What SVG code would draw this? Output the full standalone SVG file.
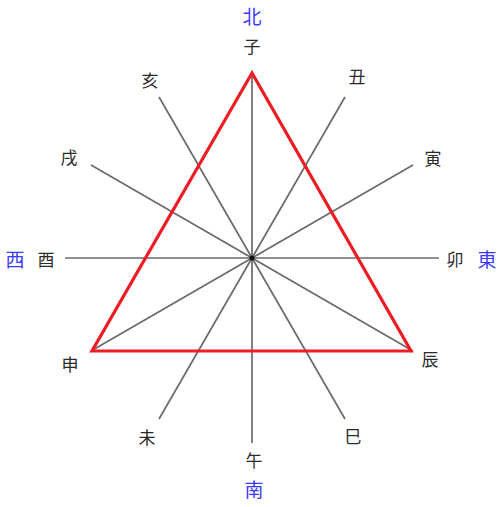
<svg xmlns="http://www.w3.org/2000/svg" width="500" height="507" viewBox="0 0 500 507">
<style>
.l{stroke:#6a6a6a;stroke-width:1.7;fill:none}
.t{font-family:"Noto Sans CJK JP","Noto Sans CJK SC",sans-serif;font-size:17px;fill:#2a2a2a;text-anchor:middle;dominant-baseline:central}
.d{font-family:"Noto Sans CJK JP","Noto Sans CJK SC",sans-serif;font-size:19px;fill:#3a3aff;text-anchor:middle;dominant-baseline:central}
</style>
<rect width="500" height="507" fill="#fff"/>
<g id="connectors">
<line class="l" x1="252" y1="73" x2="252" y2="443"/>
<line class="l" x1="65" y1="258" x2="439" y2="258"/>
<line class="l" x1="159" y1="97" x2="345" y2="419"/>
<line class="l" x1="345" y1="97" x2="159" y2="419"/>
<line class="l" x1="91" y1="165" x2="413" y2="351"/>
<line class="l" x1="413" y1="165" x2="91" y2="351"/>
<circle cx="252" cy="258" r="2.5" fill="#111"/>
</g>
<g id="triangle">
<polygon points="252,73 92,351 411,351" fill="none" stroke="#ee1c24" stroke-width="3.2" stroke-linejoin="miter"/>
</g>
<g id="directions">
<text class="d" x="252" y="15">北</text>
<text class="d" x="487" y="258">東</text>
<text class="d" x="254" y="488">南</text>
<text class="d" x="15" y="258">西</text>
</g>
<g id="branches">
<text id="n-zi" class="t" x="252" y="45">子</text>
<text id="n-chou" class="t" x="357" y="75">丑</text>
<text id="n-yin" class="t" x="433" y="157">寅</text>
<text id="n-mao" class="t" x="455" y="258">卯</text>
<text id="n-chen" class="t" x="430" y="358">辰</text>
<text id="n-si" class="t" x="353" y="435">巳</text>
<text id="n-wu" class="t" x="254" y="459">午</text>
<text id="n-wei" class="t" x="147" y="436">未</text>
<text id="n-shen" class="t" x="70" y="363">申</text>
<text id="n-you" class="t" x="46" y="258">酉</text>
<text id="n-xu" class="t" x="69" y="156">戌</text>
<text id="n-hai" class="t" x="150" y="79">亥</text>
</g>
</svg>
